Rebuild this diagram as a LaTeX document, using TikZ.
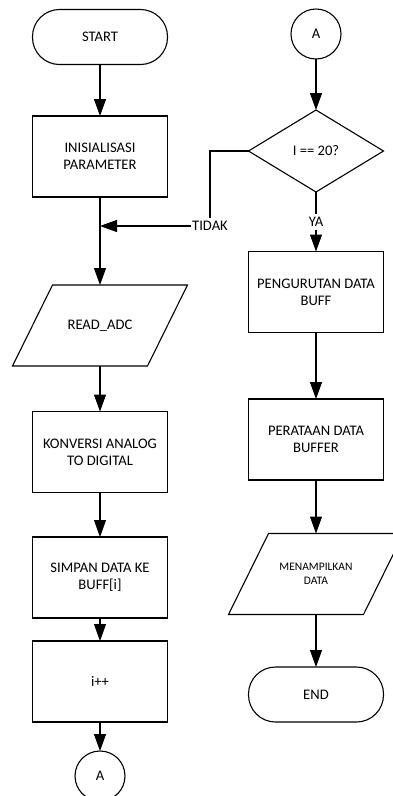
\documentclass[tikz,border=0pt]{standalone}
\usepackage{fontspec}
\setmainfont{Carlito}
\usetikzlibrary{arrows.meta,calc,shapes.geometric}
\begin{document}
\begin{tikzpicture}[x=1pt,y=-1pt,
  line width=1.1pt,
  every node/.style={font=\fontsize{14.6}{17}\selectfont, align=center, outer sep=0pt},
  proc/.style={draw, rectangle, minimum width=135pt, minimum height=81pt, inner sep=2pt},
  term/.style={draw, rectangle, rounded corners=27pt, minimum width=135pt, minimum height=55pt},
  iobox/.style={rectangle, minimum width=135pt, minimum height=81pt, inner sep=2pt},
  conn/.style={draw, circle, minimum size=50pt, inner sep=0pt},
  decis/.style={draw, diamond, minimum width=135pt, minimum height=82pt, inner sep=0pt},
  lbl/.style={fill=white, inner xsep=1.5pt, inner ysep=3pt},
  arr/.style={-{Triangle[length=17pt,width=12pt]}},
  ln/.style={-}
]
\clip (0,0) rectangle (393,796);
\fill[white] (0,0) rectangle (393,796);

% left column
\node[term] (start) at (100,37) {START};
\node[proc] (init) at (100,156.5) {INISIALISASI\\PARAMETER};
\node[iobox] (read) at (100,325.5) {READ\_ADC};
\draw ($(read.south west)+(-20,0)$) -- ($(read.south east)+(-20,0)$) -- ($(read.north east)+(20,0)$) -- ($(read.north west)+(20,0)$) -- cycle;
\node[proc] (konv) at (100,452) {KONVERSI ANALOG\\TO DIGITAL};
\node[proc] (simp) at (100,577.5) {SIMPAN DATA KE\\BUFF[i]};
\node[proc] (inc) at (100,681.5) {i++};
\node[conn] (a1) at (100,776) {A};

% right column
\node[conn] (a2) at (316,34) {A};
\node[decis] (dec) at (316,151) {I == 20?};
\node[lbl] (ya) at (316,222) {YA};
\node[lbl] (tidak) at (210,226) {TIDAK};
\node[proc] (peng) at (316,292) {PENGURUTAN DATA\\BUFF};
\node[proc] (rata) at (316,439.5) {PERATAAN DATA\\BUFFER};
\node[iobox, font=\fontsize{11.5}{14}\selectfont] (tamp) at (316,574) {MENAMPILKAN\\DATA};
\draw ($(tamp.south west)+(-20,0)$) -- ($(tamp.south east)+(-20,0)$) -- ($(tamp.north east)+(20,0)$) -- ($(tamp.north west)+(20,0)$) -- cycle;
\node[term] (end) at (316,694.5) {END};

% connectors left
\draw[arr] (start.south) -- (init.north);
\draw[arr] (init.south) -- (read.north);
\draw[arr] (read.south) -- (konv.north);
\draw[arr] (konv.south) -- (simp.north);
\draw[arr] (simp.south) -- (inc.north);
\draw[arr] (inc.south) -- (a1.north);

% connectors right
\draw[arr] (a2.south) -- (dec.north);
\draw (dec.south) -- (ya.north);
\draw[arr] (ya.south) -- (peng.north);
\draw[arr] (peng.south) -- (rata.north);
\draw[arr] (rata.south) -- (tamp.north);
\draw[arr] (tamp.south) -- (end.north);

% TIDAK loop
\draw (dec.west) -| (tidak.north);
\draw[arr] (tidak.west) -- (tidak.west -| init.south);
\end{tikzpicture}
\end{document}
